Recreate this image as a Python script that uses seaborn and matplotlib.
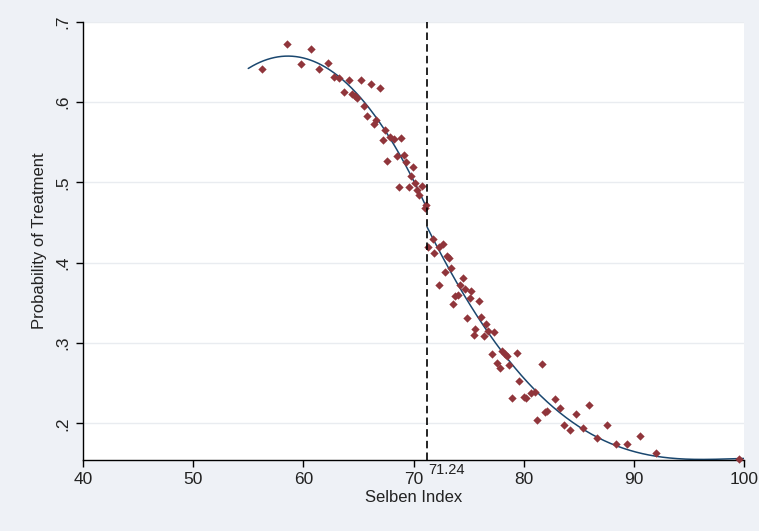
import numpy as np
import pandas as pd
import matplotlib
matplotlib.use("Agg")
import matplotlib.pyplot as plt
import seaborn as sns

cutoff = 71.24

x_left = [56.25, 58.48, 59.75, 60.70, 61.45, 62.21, 62.75, 63.27, 64.12, 65.21,
          66.15, 67.00, 63.70, 64.45, 64.73, 64.88, 65.48, 65.82, 66.61, 66.45,
          67.39, 67.21, 67.85, 68.21, 68.88, 68.48, 69.12, 67.61, 69.34, 69.97,
          69.75, 70.18, 70.73, 68.70, 69.55, 70.30, 70.52, 71.18, 71.03]
y_left = [0.6412, 0.6718, 0.6478, 0.6664, 0.6412, 0.6481, 0.6312, 0.6300, 0.6279, 0.6270,
          0.6229, 0.6170, 0.6129, 0.6104, 0.6071, 0.6051, 0.5955, 0.5831, 0.5772, 0.5731,
          0.5653, 0.5524, 0.5566, 0.5541, 0.5553, 0.5325, 0.5337, 0.5271, 0.5250, 0.5188,
          0.5085, 0.4994, 0.4960, 0.4939, 0.4948, 0.4902, 0.4848, 0.4724, 0.4683]

x_right = [71.75, 71.36, 71.88, 72.36, 72.64, 73.06, 73.25, 73.39, 72.82, 74.45,
           72.34, 74.21, 74.64, 75.18, 73.79, 74.06, 75.12, 75.94, 73.57, 74.85,
           76.12, 76.57, 75.61, 76.75, 77.34, 75.45, 76.36, 78.03, 77.12, 78.27,
           79.36, 78.45, 77.61, 78.70, 77.85, 81.70, 79.57, 80.66, 81.00, 80.06,
           80.21, 78.94, 82.85, 83.30, 82.15, 81.94, 84.75, 85.94, 81.25, 83.66,
           84.21, 85.39, 86.70, 87.52, 88.39, 89.34, 90.52, 92.00, 99.57]
y_right = [0.4289, 0.4201, 0.4118, 0.4201, 0.4235, 0.4081, 0.4052, 0.3932, 0.3882, 0.3812,
           0.3725, 0.3716, 0.3667, 0.3646, 0.3583, 0.3596, 0.3555, 0.3517, 0.3484, 0.3306,
           0.3318, 0.3231, 0.3178, 0.3148, 0.3136, 0.3103, 0.3091, 0.2899, 0.2867, 0.2867,
           0.2879, 0.2837, 0.2755, 0.2725, 0.2693, 0.2743, 0.2526, 0.2382, 0.2389, 0.2323,
           0.2311, 0.2320, 0.2302, 0.2190, 0.2158, 0.2146, 0.2121, 0.2233, 0.2041, 0.1975,
           0.1913, 0.1938, 0.1813, 0.1979, 0.1739, 0.1739, 0.1842, 0.1627, 0.1561]

# fitted curve values (right of cutoff)
fit_rx = [71.30, 73.36, 76.70, 80.03, 86.70, 90.60, 93.00, 95.50, 100.0]
fit_ry = [0.4390, 0.3956, 0.3128, 0.2526, 0.1842, 0.1655, 0.1560, 0.1530, 0.1570]

x_ticks = [40, 50, 60, 70, 80, 90, 100]
y_ticks = [0.2, 0.3, 0.4, 0.5, 0.6, 0.7]
y_ticklabels = [".2", ".3", ".4", ".5", ".6", ".7"]

sns.set_theme(style="white")
plt.rcParams['font.family'] = ['Liberation Sans', 'DejaVu Sans']

bg = "#EEF1F6"
marker_col = "#90353B"
line_col = "#1A476F"

fig = plt.figure(figsize=(7.59, 5.31), dpi=100, facecolor=bg)
ax = fig.add_axes([83/759, 1 - 460/531, (744 - 83)/759, (460 - 21.7)/531])
ax.set_facecolor("white")

df = pd.DataFrame({"x": x_left + x_right, "y": y_left + y_right})

# quadratic fit on the left, smooth polynomial through the read fit values on the right
cl = np.polyfit(x_left, y_left, 2)
cr = np.polyfit(fit_rx, fit_ry, 4)
gl = np.linspace(55, cutoff, 200)
gr = np.linspace(cutoff, 100, 300)
fit = pd.DataFrame({"x": np.concatenate([gl, gr]),
                    "y": np.concatenate([np.polyval(cl, gl), np.polyval(cr, gr)]),
                    "side": ["L"] * len(gl) + ["R"] * len(gr)})

for yt in y_ticks:
    ax.axhline(yt, color="#E9ECF0", lw=1.0, zorder=0)

sns.scatterplot(data=df, x="x", y="y", marker="D", s=18, color=marker_col,
                linewidth=0, ax=ax, zorder=3, clip_on=False)
sns.lineplot(data=fit, x="x", y="y", units="side", estimator=None,
             color=line_col, lw=1.1, ax=ax, zorder=2, sort=False)

ax.axvline(cutoff, color="black", lw=1.2, linestyle=(0, (4.5, 2.5)), zorder=4)

ax.set_xlim(40, 100)
ax.set_ylim(0.1543, 0.7)
ax.set_xticks(x_ticks)
ax.set_xticklabels([str(t) for t in x_ticks])
ax.set_yticks(y_ticks)
ax.set_yticklabels(y_ticklabels, rotation=90, va="center")

for s in ["top", "right"]:
    ax.spines[s].set_visible(False)
for s in ["left", "bottom"]:
    ax.spines[s].set_color("black")
    ax.spines[s].set_linewidth(1.0)

ax.tick_params(axis="both", direction="out", length=5, width=1.0, color="black",
               labelsize=12.5, labelcolor="#222222", pad=4, bottom=True, left=True)

ax.set_xlabel("Selben Index", fontsize=12, color="#222222", labelpad=2)
ax.set_ylabel("Probability of Treatment", fontsize=12, color="#222222", labelpad=6)

ax.annotate("71.24", xy=(cutoff, 0), xycoords=("data", "axes fraction"),
            xytext=(0.5, -2), textcoords="offset points", ha="left", va="top",
            fontsize=10.5, color="#222222")

fig.savefig("out.png", dpi=100, facecolor=bg)
